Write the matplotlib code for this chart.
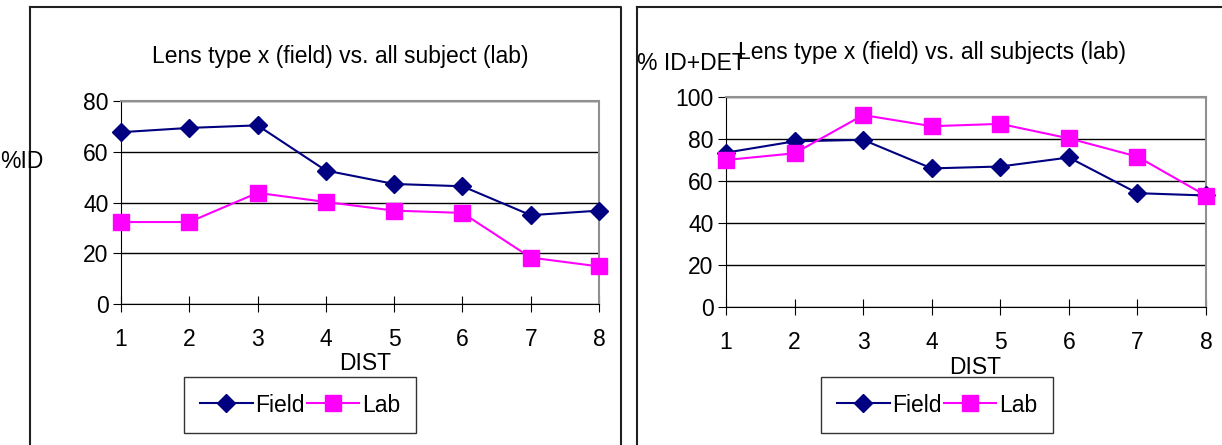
import matplotlib.pyplot as plt
from matplotlib.lines import Line2D

plt.rcParams['font.family'] = ['Liberation Sans', 'DejaVu Sans']

dist = [1, 2, 3, 4, 5, 6, 7, 8]

# left chart: %ID
id_field = [67.7, 69.4, 70.4, 52.6, 47.3, 46.4, 35.0, 36.8]
id_lab = [32.3, 32.3, 43.8, 40.2, 36.8, 35.9, 18.3, 14.8]

# right chart: % ID+DET
det_field = [73.5, 78.9, 79.6, 66.0, 66.9, 71.2, 54.2, 53.1]
det_lab = [70.0, 73.2, 91.4, 86.1, 87.2, 80.3, 71.6, 53.0]

W, H = 1222, 445
FS = 16.5
fig = plt.figure(figsize=(W / 100, H / 100), dpi=100)
fig.patch.set_facecolor('white')


def px_axes(l, t, r, b):
    return fig.add_axes([l / W, 1 - b / H, (r - l) / W, (b - t) / H])


def draw(ax, field, lab, ymax, title, ylabel, ylab_xy, title_xy, dist_xy, leg_xy):
    ax.plot(dist, field, color='#000080', marker='D', markersize=9, lw=1.5,
            label='Field', clip_on=False, zorder=3)
    ax.plot(dist, lab, color='#FF00FF', marker='s', markersize=12, lw=1.5,
            label='Lab', clip_on=False, zorder=3)
    ax.set_xlim(1, 8)
    ax.set_ylim(0, ymax)
    ax.set_xticks(dist)
    ax.set_yticks(range(0, ymax + 1, 20))
    ax.yaxis.grid(True, color='black', lw=1)
    ax.set_axisbelow(True)
    for s in ['top', 'right']:
        ax.spines[s].set_color('#909090')
        ax.spines[s].set_linewidth(1.5)
    for s in ['left', 'bottom']:
        ax.spines[s].set_color('black')
    ax.tick_params(axis='x', direction='inout', length=12, labelsize=FS, pad=11)
    ax.tick_params(axis='y', direction='out', length=6, labelsize=FS, pad=3)
    fig.text(title_xy[0] / W, 1 - title_xy[1] / H, title, ha='center', va='center', fontsize=FS)
    fig.text(ylab_xy[0] / W, 1 - ylab_xy[1] / H, ylabel, ha='left', va='center', fontsize=FS)
    fig.text(dist_xy[0] / W, 1 - dist_xy[1] / H, 'DIST', ha='center', va='center', fontsize=FS)
    leg = fig.legend(handles=ax.get_lines(), loc='center', ncol=2,
                     bbox_to_anchor=(leg_xy[0] / W, 1 - leg_xy[1] / H), fontsize=FS,
                     frameon=True, fancybox=False, handlelength=2.3,
                     handletextpad=0.1, columnspacing=0.1, borderpad=0.7)
    leg.get_frame().set_edgecolor('black')
    leg.get_frame().set_linewidth(1)


ax1 = px_axes(121, 101, 599, 304)
draw(ax1, id_field, id_lab, 80, 'Lens type x (field) vs. all subject (lab)',
     '%ID', (0, 162), (340, 56), (365, 363), (300, 405))

ax2 = px_axes(726, 97, 1206, 307)
draw(ax2, det_field, det_lab, 100, 'Lens type x (field) vs. all subjects (lab)',
     '% ID+DET', (637, 63), (932, 52), (975, 368), (937, 405))

# panel frames
for x0 in (30, 637):
    fig.add_artist(Line2D([x0 / W, x0 / W], [0, 1 - 7 / H], color='#202020', lw=1.5))
fig.add_artist(Line2D([30 / W, 621 / W, 621 / W], [1 - 7 / H, 1 - 7 / H, 0], color='#202020', lw=1.5))
fig.add_artist(Line2D([637 / W, 1], [1 - 7 / H, 1 - 7 / H], color='#202020', lw=1.5))

plt.savefig('out.png', dpi=100)
